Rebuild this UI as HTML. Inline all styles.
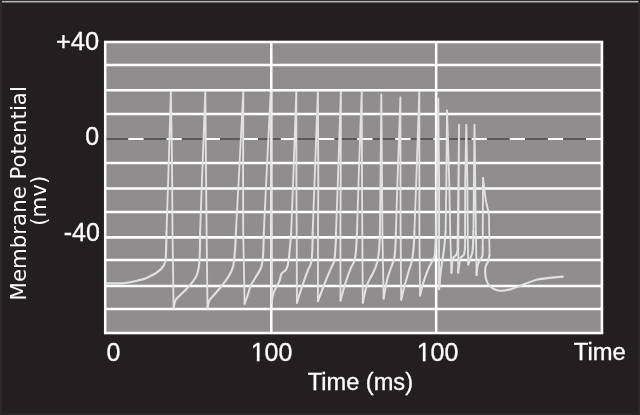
<!DOCTYPE html>
<html lang="en">
<head>
<meta charset="utf-8">
<title>Membrane Potential vs Time</title>
<style>
html,body{margin:0;padding:0;background:#231f20;}
body{width:640px;height:415px;overflow:hidden;}
svg{display:block;}
.num{font-family:"Liberation Sans",Arial,Helvetica,sans-serif;font-size:25px;fill:#fff;stroke:#fff;stroke-width:0.3px;}
.lab{font-family:"Liberation Sans",Arial,Helvetica,sans-serif;font-size:23px;fill:#fff;stroke:#fff;stroke-width:0.3px;}
.ylab{font-family:"DejaVu Sans","Liberation Sans",sans-serif;font-size:21.3px;fill:#fff;}
</style>
</head>
<body>
<svg width="640" height="415" viewBox="0 0 640 415">
<rect x="0" y="0" width="640" height="415" fill="#231f20"/>
<rect x="0" y="0" width="640" height="1" fill="#141213"/>
<rect x="1" y="0.8" width="637.5" height="1.7" fill="#b4b4b4"/>
<rect x="0" y="0" width="2" height="415" fill="#2c292a"/>
<rect x="0" y="413.2" width="640" height="1.8" fill="#2c292a"/>
<rect x="638.2" y="2" width="1.8" height="413" fill="#2b2829"/>
<rect x="104.0" y="40.8" width="499.2" height="293.4" fill="#8f8d8e"/>
<line x1="105.2" y1="139" x2="601.9" y2="139" stroke="#5a5859" stroke-width="1.9"/>
<line x1="128.3" y1="139" x2="601.9" y2="139" stroke="#fff" stroke-width="2.1" stroke-dasharray="15.3 22.84"/>
<g stroke="#fff" stroke-width="2.5" fill="none"><line x1="103.95" y1="42.00" x2="603.15" y2="42.00"/><line x1="105.20" y1="65.00" x2="601.90" y2="65.00"/><line x1="105.20" y1="90.15" x2="601.90" y2="90.15"/><line x1="105.20" y1="114.10" x2="601.90" y2="114.10"/><line x1="105.20" y1="163.05" x2="601.90" y2="163.05"/><line x1="105.20" y1="188.50" x2="601.90" y2="188.50"/><line x1="105.20" y1="212.00" x2="601.90" y2="212.00"/><line x1="105.20" y1="237.35" x2="601.90" y2="237.35" stroke-width="2.9"/><line x1="105.20" y1="260.05" x2="601.90" y2="260.05"/><line x1="105.20" y1="286.10" x2="601.90" y2="286.10"/><line x1="105.20" y1="309.00" x2="601.90" y2="309.00"/><line x1="103.95" y1="332.95" x2="603.15" y2="332.95"/><line x1="105.20" y1="42.00" x2="105.20" y2="332.95"/><line x1="271.30" y1="42.00" x2="271.30" y2="332.95"/><line x1="436.15" y1="42.00" x2="436.15" y2="332.95"/><line x1="601.90" y1="42.00" x2="601.90" y2="332.95"/></g>
<g fill="none" stroke="#e1e1e1" stroke-linejoin="round" stroke-linecap="round"><path d="M166.5 232.0L168.2 180.0L170.9 91.6L172.0 160.0L172.5 232.0L173.6 307.8M200.1 232.0L202.0 180.0L205.3 91.6L206.1 180.0L206.6 232.0L207.5 307.8M235.9 232.0L238.7 180.0L243.3 91.6L243.1 180.0L243.2 232.0L244.6 303.7M263.8 232.0L266.3 180.0L270.7 91.6L271.2 230.0L271.6 303.0M291.2 232.0L293.2 180.0L296.3 91.6L296.4 180.0L296.7 232.0L296.9 302.7M312.7 232.0L314.6 180.0L317.9 91.6L318.3 180.0L318.0 232.0L317.9 301.2M336.0 232.0L337.9 180.0L340.9 91.6L340.7 180.0L340.4 232.0L340.5 300.6M357.0 232.0L358.6 180.0L361.7 91.6L362.0 180.0L362.3 232.0L362.8 302.7M379.9 232.0L380.5 180.0L381.3 94.4L382.0 180.0L382.4 232.0L383.6 298.6M395.9 232.0L397.5 180.0L400.4 97.3L400.6 232.0L401.2 299.6M414.4 232.0L416.3 180.0L419.3 91.4L419.4 232.0L420.1 295.5M436.0 235.0L438.3 98.5L439.1 180.0L439.1 232.0L439.1 289.2M445.6 232.0L446.4 180.0L447.0 110.2L449.2 180.0L450.2 232.0L451.5 272.8M457.5 251.0L459.1 124.8L458.3 251.0L458.2 272.6M465.0 247.0L465.2 180.0L466.3 124.8L467.3 180.0L467.8 240.0L468.2 264.5M473.4 232.0L474.5 124.8L475.9 232.0L476.6 275.0M482.7 248.0L483.0 177.6L485.7 200.0L488.0 210.0L489.0 216.0L489.5 255.0" stroke-width="1.85"/><path d="M106.3 283.4C107.8 283.4 112.1 283.4 115.0 283.4C117.9 283.4 121.0 283.4 123.5 283.2C126.0 283.0 127.6 282.8 130.0 282.3C132.4 281.8 135.3 281.1 138.0 280.4C140.7 279.7 142.8 279.6 146.0 278.2C149.2 276.8 154.4 274.3 157.3 272.2C160.2 270.1 162.2 268.0 163.6 265.6C165.0 263.2 165.2 263.6 165.7 258.0C166.2 252.4 166.4 236.3 166.5 232.0M173.6 307.8C173.9 306.6 174.4 302.5 175.3 300.6C176.2 298.7 177.0 298.4 178.8 296.5C180.6 294.6 183.6 291.9 186.0 289.4C188.4 286.8 191.2 283.8 193.1 281.2C195.0 278.6 196.2 276.7 197.2 274.0C198.2 271.3 198.6 268.7 199.1 264.8C199.6 260.9 199.7 256.0 199.9 250.5C200.1 245.0 200.1 235.1 200.1 232.0M207.5 307.8C207.8 306.7 208.4 302.7 209.1 301.0C209.8 299.3 209.8 299.8 211.6 297.6C213.4 295.4 217.2 291.4 220.0 288.0C222.8 284.6 226.0 280.5 228.2 277.0C230.4 273.5 231.9 271.2 233.0 266.8C234.1 262.4 234.5 256.3 235.0 250.5C235.5 244.7 235.8 235.1 235.9 232.0M244.6 303.7C245.1 302.3 246.6 298.4 247.6 295.5C248.6 292.6 249.8 288.0 250.5 286.0C251.2 284.0 250.9 285.0 251.8 283.5C252.7 282.0 254.3 279.6 255.8 277.0C257.3 274.4 259.8 271.3 261.0 267.9C262.2 264.5 262.5 262.6 263.0 256.6C263.5 250.6 263.7 236.1 263.8 232.0M271.6 303.0C271.7 302.1 272.0 299.4 272.4 297.5C272.8 295.6 273.0 294.1 274.2 291.4C275.4 288.7 278.2 284.1 279.4 281.2C280.6 278.3 280.2 276.1 281.4 274.0C282.6 271.9 285.3 271.1 286.5 268.9C287.7 266.7 288.0 265.1 288.6 260.7C289.2 256.3 290.0 247.1 290.4 242.3C290.8 237.5 291.1 233.7 291.2 232.0M296.9 302.7C297.4 301.2 298.6 297.1 299.8 293.5C301.0 289.9 302.5 285.1 303.9 281.2C305.3 277.3 306.8 273.1 308.0 270.0C309.2 266.9 310.4 266.1 311.1 262.8C311.8 259.6 312.0 255.6 312.3 250.5C312.6 245.4 312.6 235.1 312.7 232.0M317.9 301.2C318.6 299.2 321.0 293.1 322.4 289.4C323.8 285.7 324.9 282.9 326.4 279.1C327.9 275.3 330.3 269.9 331.6 266.8C332.9 263.7 333.6 264.5 334.3 260.7C335.0 256.9 335.4 248.8 335.7 244.0C336.0 239.2 335.9 234.0 336.0 232.0M340.5 300.6C341.3 297.7 343.7 288.5 345.4 283.2C347.1 277.9 349.0 272.6 350.5 268.9C352.0 265.1 353.5 263.8 354.4 260.7C355.3 257.6 355.6 255.3 356.0 250.5C356.4 245.7 356.8 235.1 357.0 232.0M362.8 302.7C363.5 299.8 365.1 290.2 366.8 285.3C368.5 280.4 371.3 276.8 373.0 273.0C374.7 269.2 376.1 266.6 377.1 262.8C378.1 259.1 378.5 255.6 379.0 250.5C379.5 245.4 379.8 235.1 379.9 232.0M383.6 298.6C384.2 295.4 386.0 284.4 387.3 279.1C388.6 273.8 390.2 270.2 391.4 266.8C392.5 263.4 393.5 262.1 394.2 258.7C394.9 255.3 395.1 250.8 395.4 246.4C395.7 242.0 395.8 234.4 395.9 232.0M401.2 299.6C401.8 297.2 403.4 290.1 404.7 285.3C406.0 280.5 407.6 275.1 408.8 271.0C410.0 266.9 411.1 264.8 411.9 260.7C412.7 256.6 413.3 251.2 413.7 246.4C414.1 241.6 414.3 234.4 414.4 232.0M420.1 295.5C420.6 293.4 421.7 287.6 423.1 283.2C424.5 278.8 426.8 272.6 428.3 268.9C429.9 265.1 431.3 263.1 432.4 260.7C433.5 258.3 434.2 258.9 434.8 254.6C435.4 250.3 435.8 238.3 436.0 235.0M439.1 289.2C439.3 287.2 439.8 281.2 440.2 277.0C440.6 272.8 441.1 268.9 441.8 264.2C442.5 259.4 443.5 253.9 444.1 248.5C444.7 243.1 445.4 234.8 445.6 232.0M451.5 272.8C451.7 270.5 452.0 261.9 452.5 259.2C453.0 256.5 453.8 257.3 454.4 256.6C455.0 255.9 455.8 255.7 456.3 254.8C456.8 253.9 457.3 251.6 457.5 251.0M458.2 272.6C458.5 270.4 459.5 261.9 460.1 259.2C460.7 256.5 461.2 257.5 461.9 256.6C462.6 255.8 463.6 255.7 464.1 254.1C464.6 252.5 464.9 248.2 465.0 247.0M468.2 264.5C468.6 263.3 470.0 259.6 470.7 257.3C471.4 255.1 472.2 255.2 472.6 251.0C473.1 246.8 473.3 235.2 473.4 232.0M476.6 275.0C476.8 273.3 477.1 267.6 477.8 264.8C478.5 262.1 480.2 260.1 481.0 258.5C481.8 256.9 482.2 257.1 482.5 255.4C482.8 253.7 482.7 249.2 482.7 248.0M489.5 255.0C489.2 256.1 488.6 259.7 488.0 261.6C487.4 263.5 486.2 264.5 485.7 266.3C485.2 268.1 485.1 270.2 485.2 272.6C485.3 275.0 485.8 278.3 486.5 280.5C487.2 282.7 488.2 284.4 489.6 285.9C491.0 287.4 493.2 288.7 495.1 289.5C497.1 290.3 498.7 290.9 501.3 290.8C503.9 290.8 507.4 290.1 510.8 289.2C514.2 288.3 518.5 286.4 521.7 285.2C524.9 284.0 527.4 282.9 530.0 282.0C532.6 281.1 533.9 280.2 537.5 279.5C541.1 278.8 547.7 278.1 551.9 277.6C556.1 277.1 561.0 276.8 562.8 276.6" stroke-width="2.1"/></g>
<text class="num" x="99.2" y="50.3" text-anchor="end" textLength="43.2" lengthAdjust="spacingAndGlyphs">+40</text>
<text class="num" x="99.2" y="144.6" text-anchor="end">0</text>
<text class="num" x="99.8" y="240.6" text-anchor="end">-40</text>
<text class="num" x="113.5" y="361" text-anchor="middle">0</text>
<text class="num" x="271.5" y="361" text-anchor="middle">100</text>
<text class="num" x="437.5" y="361" text-anchor="middle">100</text>
<g fill="#231f20"><rect x="250.5" y="358.4" width="6.3" height="4.2"/><rect x="259.62" y="358.4" width="4.9" height="4.2"/><rect x="416.5" y="358.4" width="6.3" height="4.2"/><rect x="425.62" y="358.4" width="4.9" height="4.2"/></g>
<text class="lab" x="573.8" y="360.2" textLength="52" lengthAdjust="spacingAndGlyphs">Time</text>
<text class="lab" x="307.7" y="389.6" textLength="105.3" lengthAdjust="spacingAndGlyphs">Time (ms)</text>
<text class="ylab" transform="translate(26.1 193.3) rotate(-90)" text-anchor="middle">Membrane Potential</text>
<text class="ylab" transform="translate(45.6 200.7) rotate(-90)" text-anchor="middle">(mv)</text>
</svg>
</body>
</html>
